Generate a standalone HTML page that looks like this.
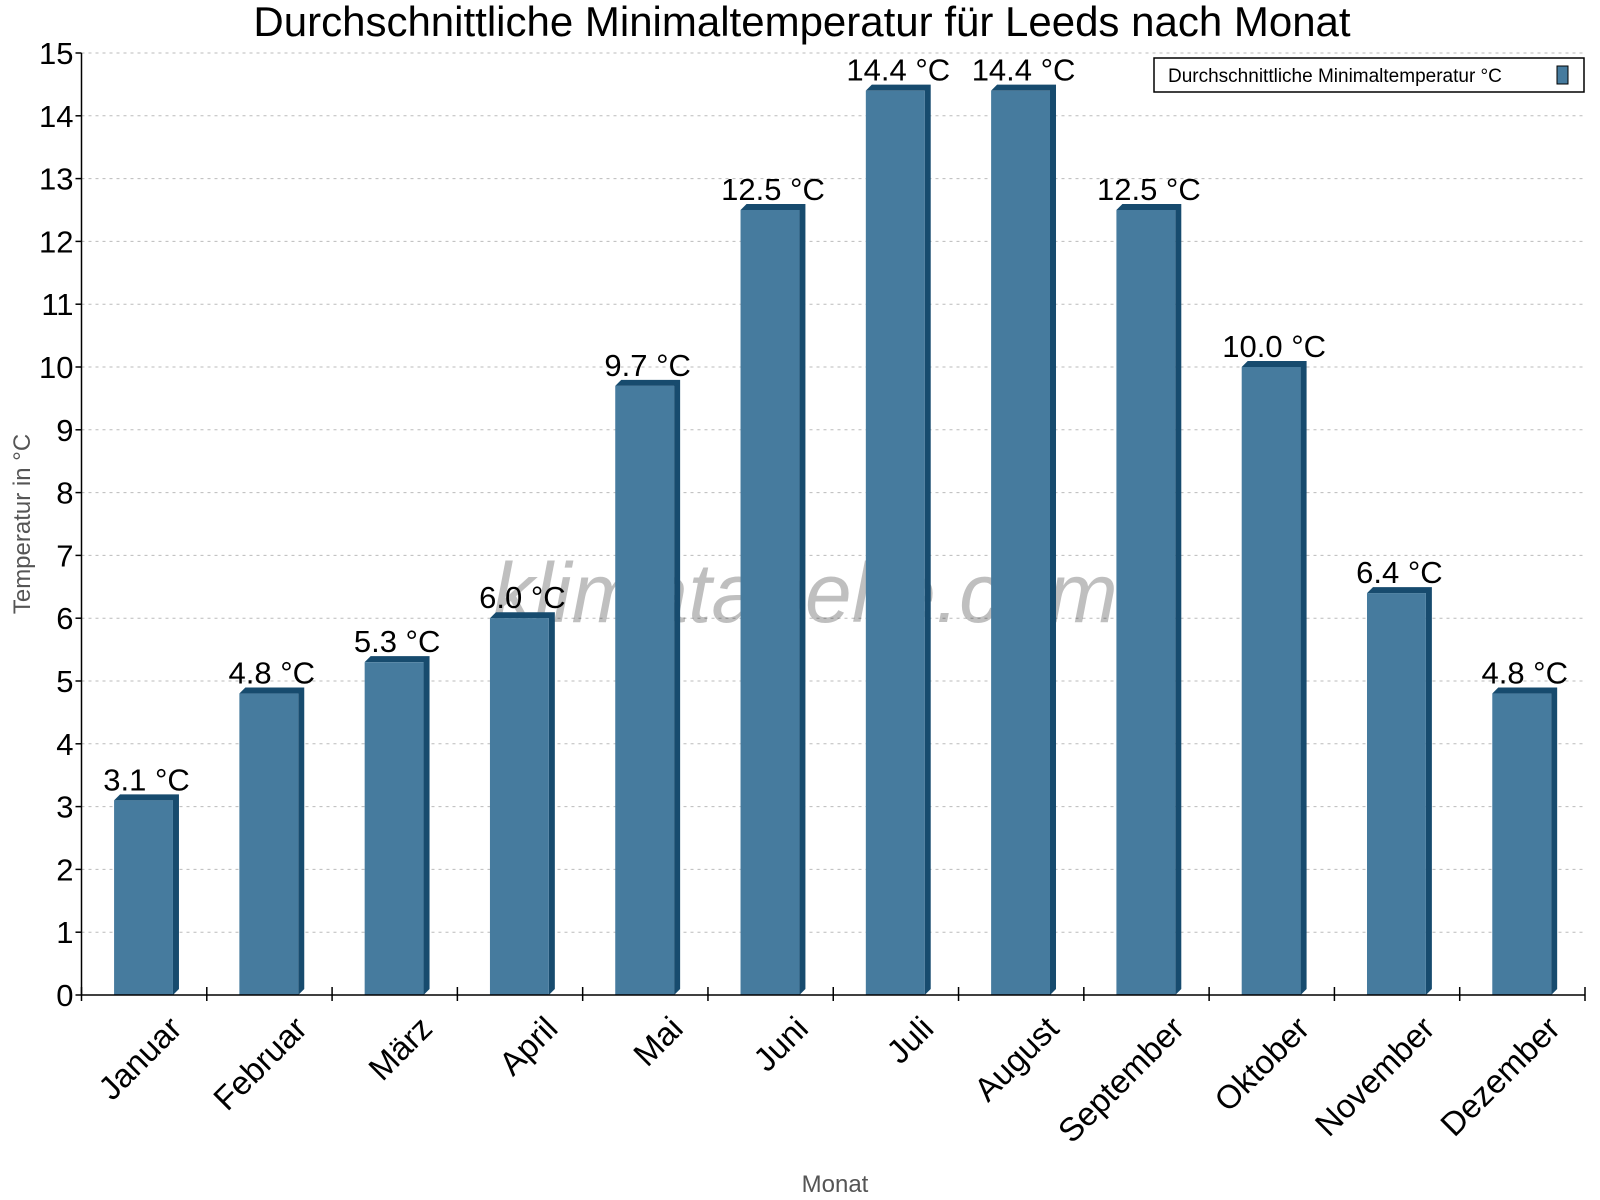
<!DOCTYPE html>
<html><head><meta charset="utf-8"><style>
body{margin:0;background:#fff}
svg{display:block;font-family:"Liberation Sans",sans-serif}
</style></head><body>
<svg id="chart" width="1600" height="1200" viewBox="0 0 1600 1200">
<text x="802" y="36" font-size="42" text-anchor="middle">Durchschnittliche Minimaltemperatur für Leeds nach Monat</text>
<g id="grid"></g>
<text x="805" y="622" font-size="84" font-style="italic" fill="#000" fill-opacity="0.25" text-anchor="middle">klimatabelle.com</text>
<g id="bars"></g>
<g id="axes"></g>
<text transform="translate(30,524) rotate(-90)" font-size="24" fill="#555" text-anchor="middle">Temperatur in °C</text>
<text x="835" y="1192" font-size="24" fill="#555" text-anchor="middle">Monat</text>
<g>
<rect x="1154" y="58" width="430" height="34" fill="#fff" stroke="#000" stroke-width="1.5"/>
<text x="1168" y="82" font-size="19">Durchschnittliche Minimaltemperatur °C</text>
<rect x="1557" y="66" width="11" height="18" fill="#467b9e" stroke="#000" stroke-width="1"/>
</g>
</svg>
<script>
const categories=["Januar","Februar","März","April","Mai","Juni","Juli","August","September","Oktober","November","Dezember"];
const values=[3.1,4.8,5.3,6.0,9.7,12.5,14.4,14.4,12.5,10.0,6.4,4.8];
const valueLabels=["3.1 °C","4.8 °C","5.3 °C","6.0 °C","9.7 °C","12.5 °C","14.4 °C","14.4 °C","12.5 °C","10.0 °C","6.4 °C","4.8 °C"];
const yTicks=[0,1,2,3,4,5,6,7,8,9,10,11,12,13,14,15];
const NS="http://www.w3.org/2000/svg";
const X0=81.5,X1=1585,Y0=995,Y1=53,YMAX=15;
const cw=(X1-X0)/categories.length;
const y=v=>Y0-(Y0-Y1)*v/YMAX;
const xc=i=>X0+cw*i;
function mk(tag,attrs,parent){const e=document.createElementNS(NS,tag);for(const k in attrs)e.setAttribute(k,attrs[k]);parent.appendChild(e);return e;}
const grid=document.getElementById('grid'),axes=document.getElementById('axes'),bars=document.getElementById('bars');
yTicks.forEach(t=>{
 const l=mk('line',{x1:X0,x2:X1,y1:y(t),y2:y(t),stroke:'#bbb','stroke-dasharray':'3,4','stroke-width':1},grid);
 
 
 mk('line',{x1:X0-6,x2:X0,y1:y(t),y2:y(t),stroke:'#000','stroke-width':1.5},axes);
 const tx=mk('text',{x:X0-8,y:y(t)+11,'font-size':31,'text-anchor':'end'},axes);
 tx.textContent=t;
 
 
});
mk('line',{x1:X0,x2:X0,y1:Y1,y2:Y0,stroke:'#000','stroke-width':1.5},axes);
mk('line',{x1:X0,x2:X1,y1:Y0,y2:Y0,stroke:'#000','stroke-width':1.5},axes);
for(let i=0;i<=categories.length;i++){mk('line',{x1:xc(i),x2:xc(i),y1:Y0-8,y2:Y0+6,stroke:'#000','stroke-width':1.5},axes);}
const d=6;
values.forEach((v,i)=>{
 const bx=xc(i)+cw*0.26,bw=cw*0.47,ty=y(v);
 const g=mk('g',{},bars);
 
 
 mk('polygon',{points:`${bx},${ty} ${bx+d},${ty-d} ${bx+bw+d},${ty-d} ${bx+bw+d},${Y0-d} ${bx+bw},${Y0} ${bx+bw},${ty}`,fill:'#174b6e'},g);
 mk('rect',{x:bx,y:ty,width:bw,height:Y0-ty,fill:'#467b9e'},g);
 const lt=mk('text',{x:bx+bw/2+d/2,y:ty-10,'font-size':31,'text-anchor':'middle'},bars);
 lt.textContent=valueLabels[i];
 
 
 const cx=xc(i)+cw/2+22,cy=Y0+18;
 const xl=mk('text',{x:cx,y:cy,'font-size':33,'text-anchor':'end',transform:`rotate(-45 ${cx} ${cy})`,dy:'0.75em'},axes);
 xl.textContent=categories[i];
 
 
});
</script>
</body></html>
